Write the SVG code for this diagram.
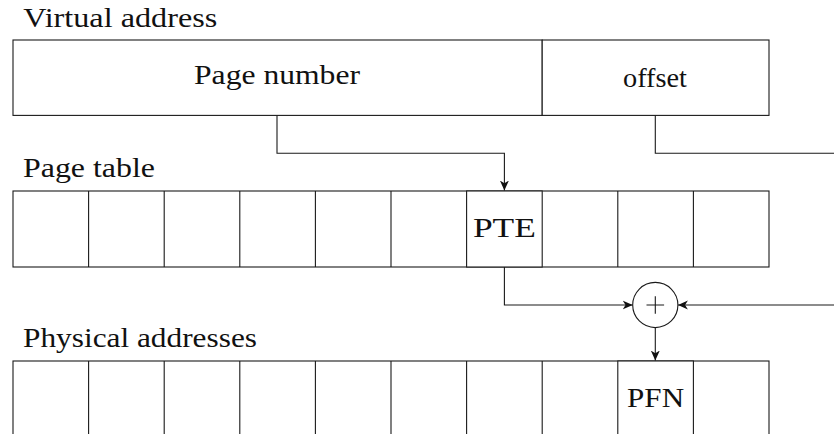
<svg xmlns="http://www.w3.org/2000/svg" width="834" height="434" viewBox="0 0 834 434">
  <defs>
    <style>
      .box { fill: #fff; stroke: #1a1a1a; stroke-width: 1.1; }
      .wire { fill: none; stroke: #1a1a1a; stroke-width: 1.1; }
      .lbl { font-family: 'Liberation Serif', 'Times New Roman', serif; font-size: 28px; fill: #111; }
      .mid { text-anchor: middle; }
    </style>
    <marker id="stealth" viewBox="0 0 10 10" refX="10" refY="5" markerWidth="10" markerHeight="10" markerUnits="userSpaceOnUse" orient="auto">
      <path d="M0,0.5 L10,5 L0,9.5 L2.8,5 Z" fill="#111"/>
    </marker>
  </defs>

  <rect width="834" height="434" fill="#fff"/>

  <!-- section titles -->
  <g id="title-virtual">
    <text class="lbl" x="23.3" y="27" textLength="194" lengthAdjust="spacingAndGlyphs">Virtual address</text>
  </g>
  <g id="title-pagetable">
    <text class="lbl" x="23" y="177" textLength="132" lengthAdjust="spacingAndGlyphs">Page table</text>
  </g>
  <g id="title-physical">
    <text class="lbl" x="23" y="347" textLength="234" lengthAdjust="spacingAndGlyphs">Physical addresses</text>
  </g>

  <!-- virtual address: page number | offset -->
  <g id="page-number">
    <rect class="box" x="13" y="40" width="529.2" height="75.4"/>
    <text class="lbl mid" x="277" y="84" textLength="166" lengthAdjust="spacingAndGlyphs">Page number</text>
  </g>
  <g id="offset">
    <rect class="box" x="542.2" y="40" width="226.8" height="75.4"/>
    <text class="lbl mid" x="655" y="87.3" textLength="64" lengthAdjust="spacingAndGlyphs">offset</text>
  </g>

  <!-- page table row -->
  <g id="page-table">
    <rect class="box" x="13" y="191" width="756" height="76"/>
    <path class="wire" d="M88.6,191V267M164.2,191V267M239.8,191V267M315.4,191V267M391,191V267M617.8,191V267M693.4,191V267"/>
  </g>
  <g id="pte">
    <rect class="box" x="466.6" y="191" width="75.6" height="76"/>
    <text class="lbl mid" x="504.4" y="237" textLength="63" lengthAdjust="spacingAndGlyphs">PTE</text>
  </g>

  <!-- adder -->
  <g id="adder">
    <circle class="box" cx="655.3" cy="305" r="22.6"/>
    <path class="wire" d="M646.5,305H664.1M655.3,296.2V313.8"/>
  </g>

  <!-- physical memory row -->
  <g id="physical">
    <rect class="box" x="13" y="361" width="756" height="76"/>
    <path class="wire" d="M88.6,361V437M164.2,361V437M239.8,361V437M315.4,361V437M391,361V437M466.6,361V437M542.2,361V437"/>
  </g>
  <g id="pfn">
    <rect class="box" x="617.8" y="361" width="75.6" height="76"/>
    <text class="lbl mid" x="655.6" y="407" textLength="57" lengthAdjust="spacingAndGlyphs">PFN</text>
  </g>

  <!-- connectors -->
  <g id="connectors">
    <path class="wire" d="M277,115.4V153.3H504.4V190.5" marker-end="url(#stealth)"/>
    <path class="wire" d="M655.3,115.4V153.3H834"/>
    <path class="wire" d="M504.4,267V305H632.7" marker-end="url(#stealth)"/>
    <path class="wire" d="M834,305H677.9" marker-end="url(#stealth)"/>
    <path class="wire" d="M655.3,327.6V360.5" marker-end="url(#stealth)"/>
  </g>
</svg>
